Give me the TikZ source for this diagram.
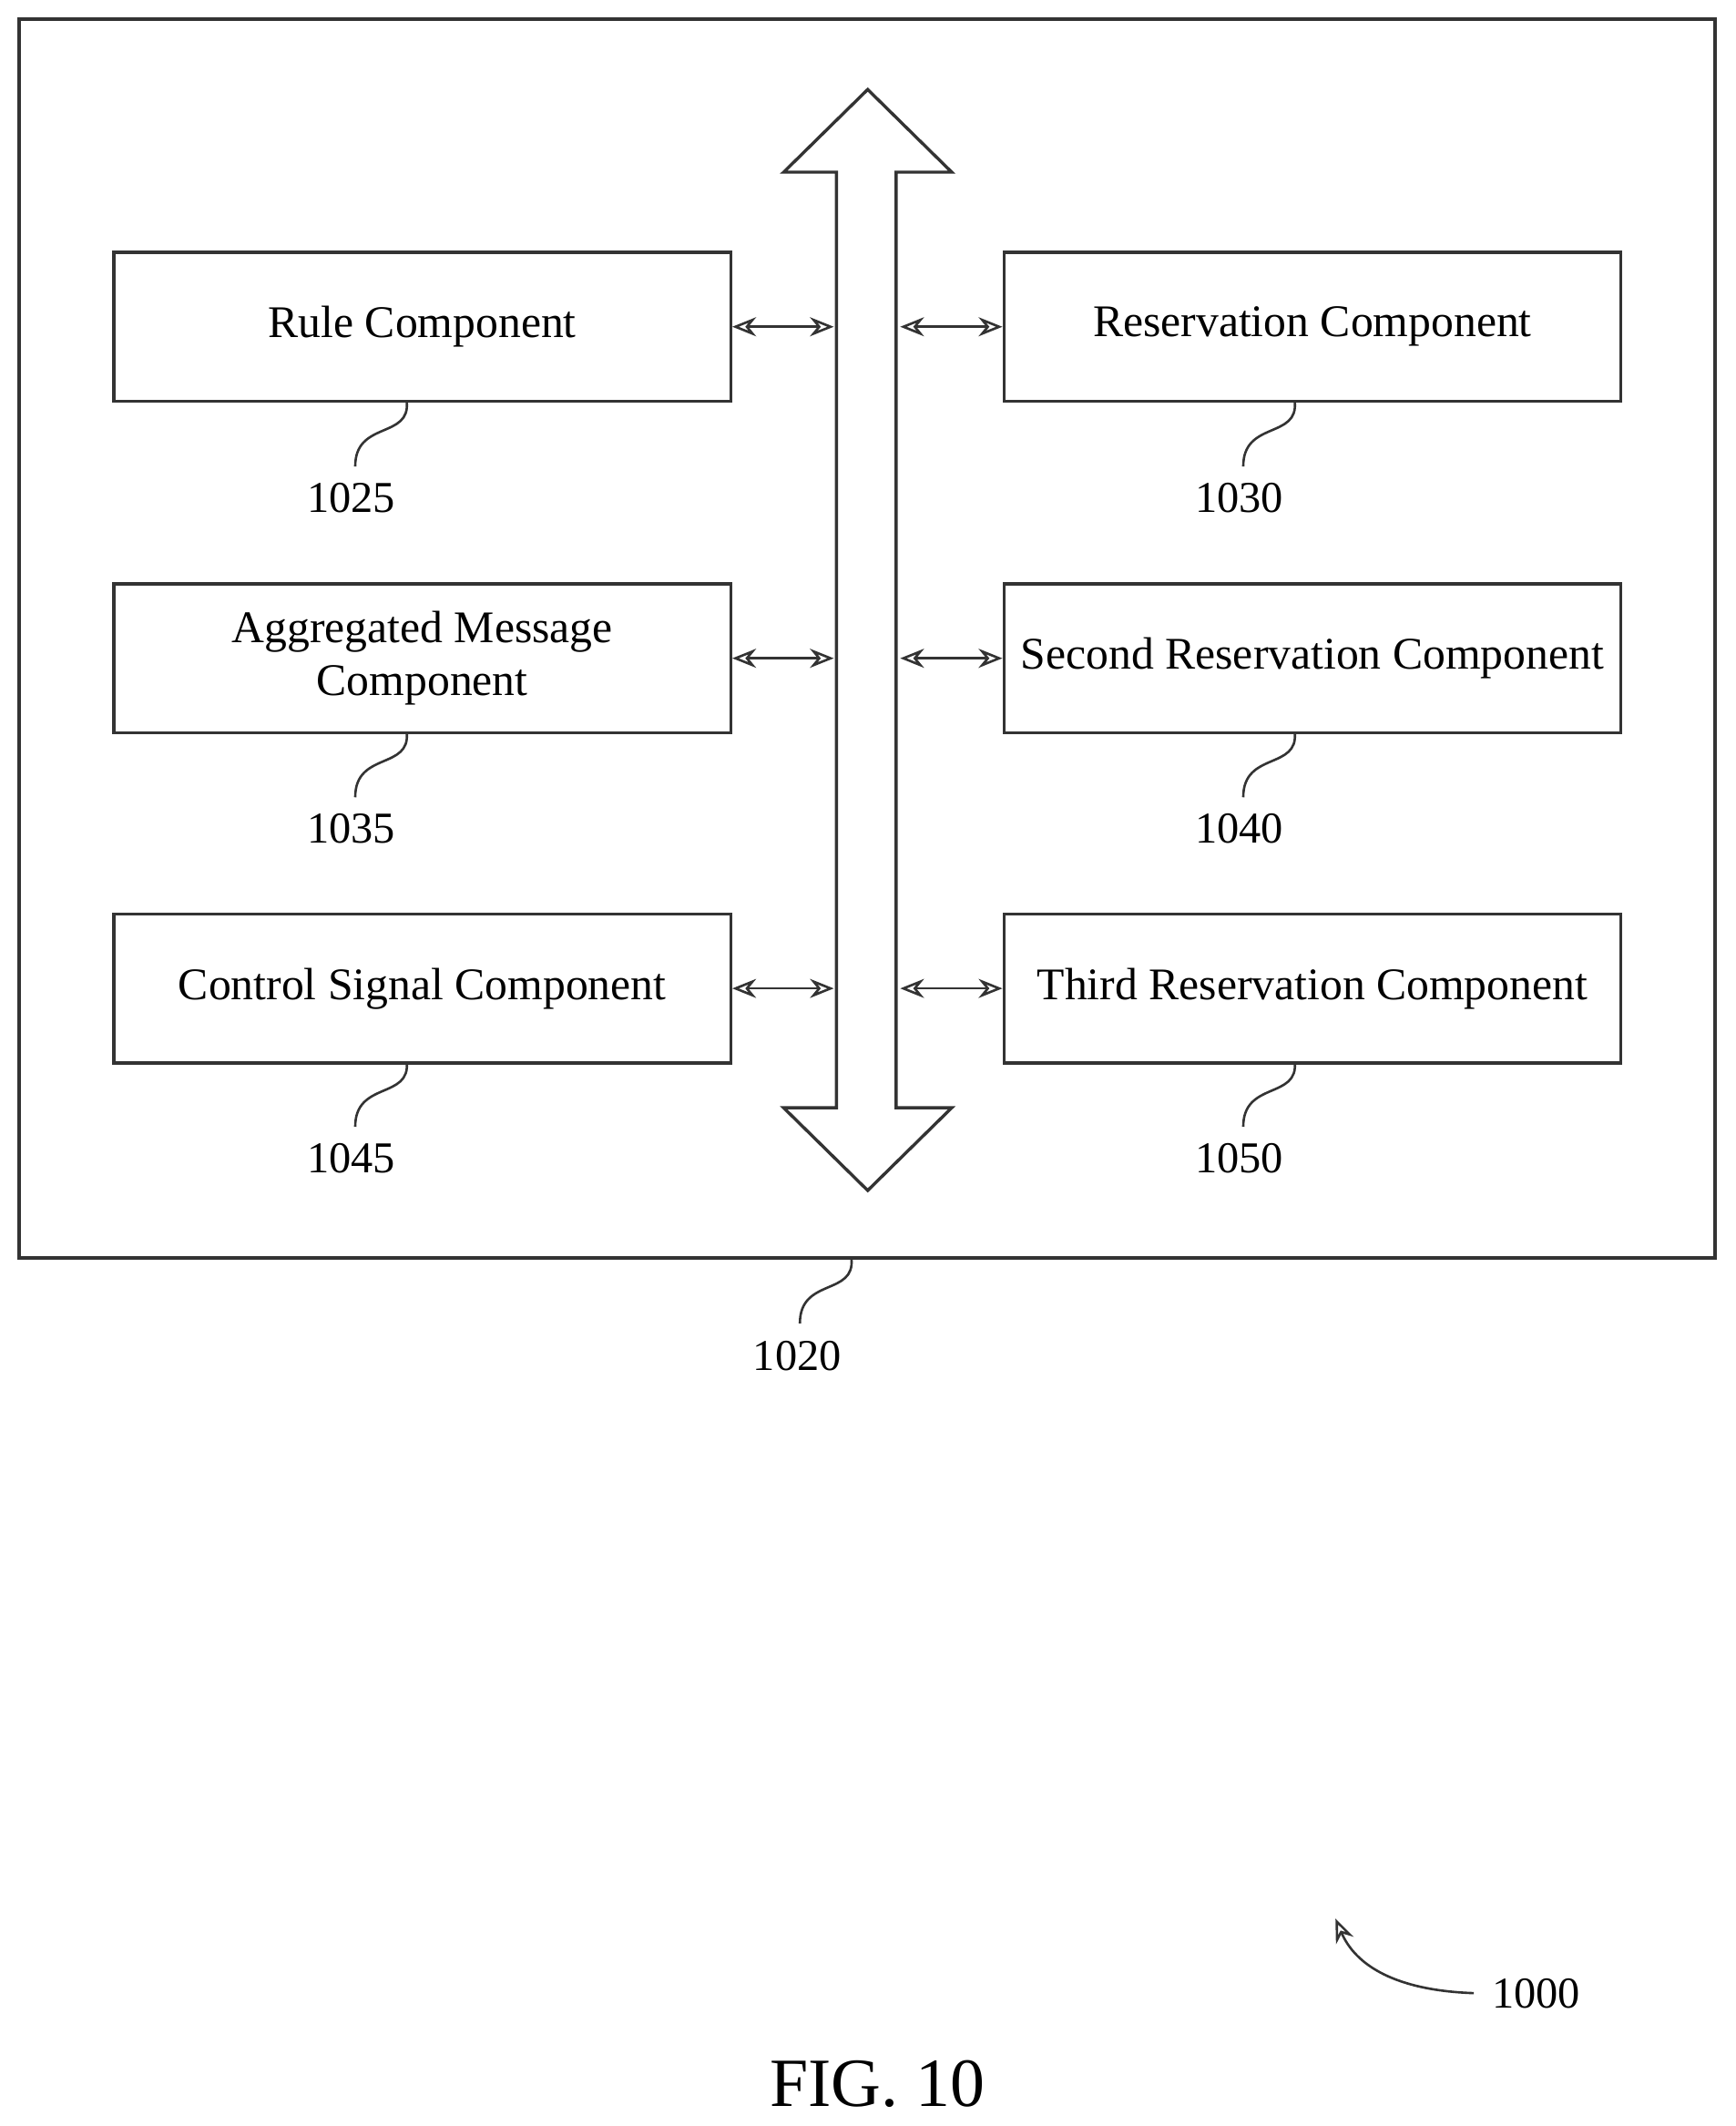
\documentclass[tikz,border=0pt]{standalone}
\usepackage{fontspec}
\setmainfont{Liberation Serif}
\usetikzlibrary{arrows.meta}
\begin{document}
\begin{tikzpicture}[x=0.02cm,y=-0.02cm,
  box/.style={draw=black!80,line width=1.3pt,minimum width=455*0.02cm,minimum height=110*0.02cm,inner sep=1pt,font=\fontsize{19}{22}\selectfont,align=center},
  lbl/.style={font=\fontsize{18.5}{22}\selectfont},
  lead/.style={draw=black!80,line width=1pt},
  link/.style={draw=black!80,line width=1pt,{Stealth[length=10pt,width=8pt,open]}-{Stealth[length=10pt,width=8pt,open]}}]
\useasboundingbox (0,0) rectangle (1280,1568);
\draw[black!80,line width=1.5pt] (14,14) rectangle (1265,928);
\node[box] (rule) at (311.5,241) {Rule Component};
\node[box] (agg) at (311.5,485.5) {Aggregated Message\\Component};
\node[box] (ctrl) at (311.5,729) {Control Signal Component};
\node[box] (res) at (968,241) {Reservation Component};
\node[box] (res2) at (968,485.5) {Second Reservation Component};
\node[box] (res3) at (968,729) {Third Reservation Component};
\draw[black!80,line width=1.3pt] (617,127) -- (578,127) -- (640,66) -- (702,127) -- (661,127) -- (661,817) -- (702,817) -- (640,878) -- (578,817) -- (617,817) -- cycle;
\foreach \n/\y in {rule/241,agg/485.5,ctrl/729}{
  \coordinate (\n-b) at (615,\y);
  \draw[link] (\n.east) -- (\n-b);}
\foreach \n/\y in {res/241,res2/485.5,res3/729}{
  \coordinate (\n-b) at (664,\y);
  \draw[link] (\n-b) -- (\n.west);}
\foreach \n/\x/\y/\t in {rule/300/296/1025,agg/300/540/1035,ctrl/300/783/1045,res/955/296/1030,res2/955/540/1040,res3/955/783/1050}{
  \node[lbl] (l\t) at (\x-41,\y+71) {\t};
  \draw[lead] (\x,\y) .. controls (\x+3,\y+28) and (\x-38,\y+14) .. (\x-38,\y+48);}
\node[lbl] (l1020) at (588,1000) {1020};
\draw[lead] (628,928) .. controls (631,956) and (590,942) .. (590,976);
\node[lbl] (l1000) at (1133,1470) {1000};
\coordinate (t1000) at (985,1415);
\draw[lead,-{Stealth[length=10pt,width=8pt,open]}] (1087,1470) .. controls (1030,1468) and (1000,1450) .. (t1000);
\node[font=\fontsize{29}{34}\selectfont] (fig) at (647,1537) {FIG. 10};
\end{tikzpicture}
\end{document}
